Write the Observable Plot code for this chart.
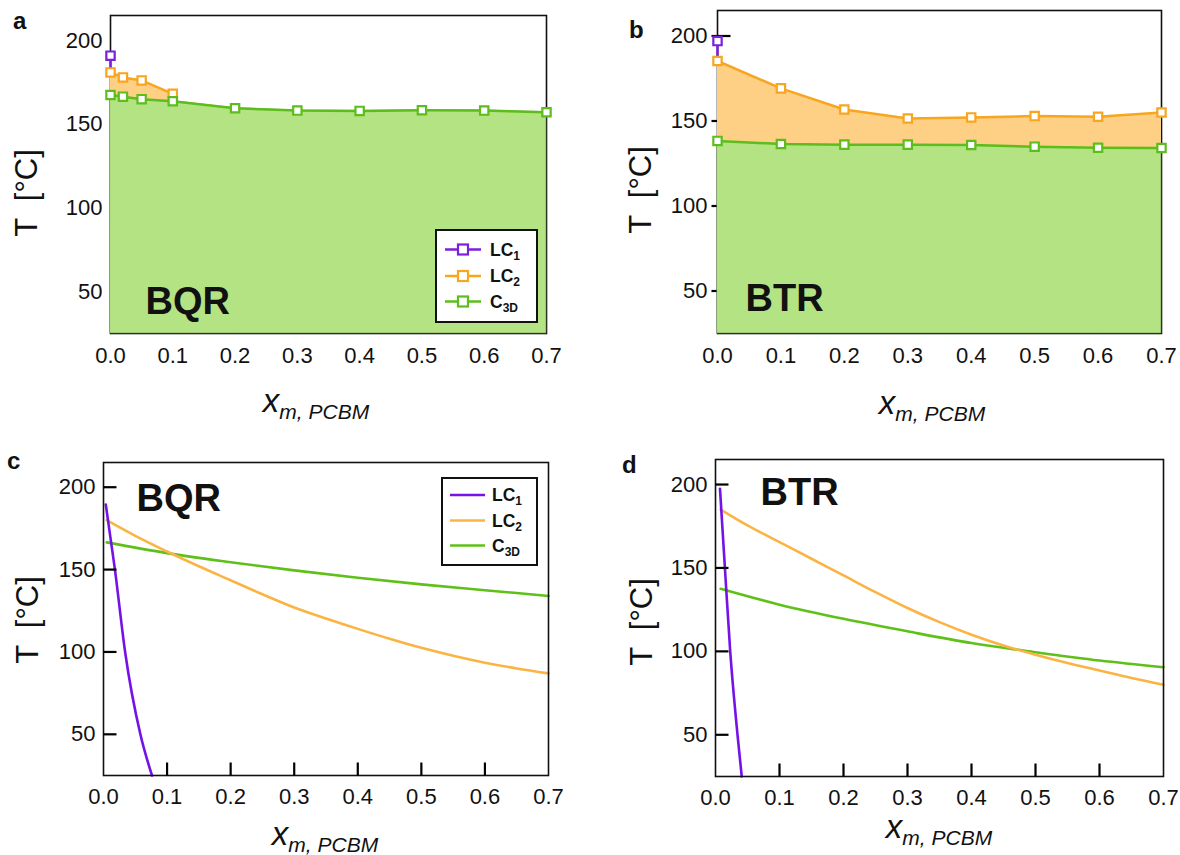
<!DOCTYPE html>
<html><head><meta charset="utf-8">
<script src="https://cdn.jsdelivr.net/npm/d3@7"></script>
<script src="https://cdn.jsdelivr.net/npm/@observablehq/plot@0.6"></script>
<style>
body{margin:0;background:#fff;}
#fig{position:relative;width:1180px;height:855px;font-family:"Liberation Sans",Arial,Helvetica,sans-serif;}
#fig svg{position:absolute;overflow:visible;}
</style></head><body><div id="fig"></div>
<script>
// ---------- data ----------
const xTicks = [0, 0.1, 0.2, 0.3, 0.4, 0.5, 0.6, 0.7];
const xTickLabels = ["0.0", "0.1", "0.2", "0.3", "0.4", "0.5", "0.6", "0.7"];
const yTicks = [50, 100, 150, 200];
const yTickLabels = ["50", "100", "150", "200"];
const yDomain = [25, 215];
const xDomain = [0, 0.7];

const seriesMain = ["LC", "LC", "C"];
const seriesSub = ["1", "2", "3D"];
const panelLetters = ["a", "b", "c", "d"];
const panelNames = ["BQR", "BTR", "BQR", "BTR"];

// (a) BQR measured
const a_LC1_x = [0];
const a_LC1_T = [191];
const a_LC2_x = [0, 0.02, 0.05, 0.1];
const a_LC2_T = [181, 178, 176.2, 168.2];
const a_C3D_x = [0, 0.02, 0.05, 0.1, 0.2, 0.3, 0.4, 0.5, 0.6, 0.7];
const a_C3D_T = [167.5, 166.5, 165, 163.8, 159.6, 158.2, 158, 158.4, 158.2, 157.2];

// (b) BTR measured
const b_LC1_x = [0];
const b_LC1_T = [197];
const b_LC2_x = [0, 0.1, 0.2, 0.3, 0.4, 0.5, 0.6, 0.7];
const b_LC2_T = [185.3, 169.2, 156.8, 151.5, 152.1, 152.9, 152.5, 155];
const b_C3D_x = [0, 0.1, 0.2, 0.3, 0.4, 0.5, 0.6, 0.7];
const b_C3D_T = [138.3, 136.5, 136.1, 136.1, 135.9, 134.9, 134.3, 134.1];

// (c) BQR model
const c_LC1_x = [0.0036, 0.018, 0.034, 0.058, 0.0763];
const c_LC1_T = [189.5, 150, 100, 50, 25];
const c_LC2_x = [0.005, 0.05, 0.1, 0.15, 0.2, 0.25, 0.3, 0.35, 0.4, 0.45, 0.5, 0.55, 0.6, 0.65, 0.7];
const c_LC2_T = [180, 170.5, 161, 152, 143.5, 135, 127, 120.3, 114, 108, 102.5, 97.7, 93.5, 90, 87];
const c_C3D_x = [0.005, 0.1, 0.2, 0.3, 0.4, 0.5, 0.6, 0.7];
const c_C3D_T = [166.5, 160, 154.5, 149.5, 145, 141, 137.5, 134];

// (d) BTR model
const d_LC1_x = [0.007, 0.0147, 0.023, 0.0344, 0.041];
const d_LC1_T = [197.5, 150, 100, 50, 25];
const d_LC2_x = [0.008, 0.05, 0.1, 0.15, 0.2, 0.25, 0.3, 0.35, 0.4, 0.45, 0.5, 0.55, 0.6, 0.65, 0.7];
const d_LC2_T = [185, 175.5, 165.5, 155.5, 145.5, 135.5, 126, 117.5, 110, 103.5, 98, 93, 88.5, 84, 80];
const d_C3D_x = [0.008, 0.1, 0.2, 0.3, 0.4, 0.5, 0.6, 0.7];
const d_C3D_T = [137.5, 128, 119.5, 112, 105, 99.5, 94.5, 90.5];

// ---------- styles ----------
const COL = {
  purple: "#7a1fdc", orange: "#f8a51f", green: "#5cbd1c",
  fillGreen: "#b3e383", fillOrange: "#fdd086",
  purple2: "#7512e8", orange2: "#fbb443", green2: "#5ec018"
};
const FONT = '"Liberation Sans", Arial, Helvetica, sans-serif';
const TICKFS = 22;
const TICKLEN = 13;
const fig = document.getElementById("fig");
const zip = (xs, ts) => xs.map((x, i) => ({x, T: ts[i]}));

// ---------- background layer (titles, letters) ----------
const under = d3.select("#fig").append("svg").attr("width", 1180).attr("height", 855)
  .style("left", "0px").style("top", "0px").style("font-family", FONT);

const letterPos = [[13, 29], [629, 38], [7, 469], [622, 473]];
panelLetters.forEach((l, i) => under.append("text").attr("x", letterPos[i][0]).attr("y", letterPos[i][1])
  .attr("font-size", 24).attr("font-weight", "bold").attr("fill", "#111").text(l));

const yTitlePos = [[26, 193], [640, 190], [27, 620], [641, 622]];
yTitlePos.forEach(([cx, cy]) => under.append("text").attr("transform", `translate(${cx},${cy}) rotate(-90)`)
  .attr("text-anchor", "middle").attr("dy", "0.36em").attr("font-size", 31).attr("fill", "#111")
  .style("white-space", "pre").text("T  [°C]"));

const xTitlePos = [[316, 412], [932, 414], [325, 845], [939, 838]];
xTitlePos.forEach(([cx, by]) => {
  const t = under.append("text").attr("x", cx).attr("y", by).attr("text-anchor", "middle").attr("fill", "#111").attr("font-style", "italic");
  t.append("tspan").attr("font-size", 33).text("x");
  t.append("tspan").attr("font-size", 21).attr("dy", 7).text("m, PCBM");
});

function place(p, left, top) {
  p.style.left = left + "px"; p.style.top = top + "px";
  fig.appendChild(p);
}

function axisLabels(o) {
  return [
    Plot.axisX(xTicks, {tickSize: 0, tickPadding: o.xPad, tickFormat: d => xTickLabels[xTicks.indexOf(d)], label: null, fontSize: TICKFS, fill: "#111"}),
    Plot.axisY(yTicks, {tickSize: 0, tickPadding: o.yPad, tickFormat: d => yTickLabels[yTicks.indexOf(d)], label: null, fontSize: TICKFS, fill: "#111"})
  ];
}

// inward tick marks as links in scale units (length converted from pixels)
function inwardTicks(o, inward) {
  const pw = o.width - o.mL - o.mR, ph = o.height - o.mT - o.mB;
  const kx = (xDomain[1] - xDomain[0]) / pw, ky = (yDomain[1] - yDomain[0]) / ph;
  const m = [];
  if (inward.y) m.push(Plot.link(yTicks, {
    x1: () => xDomain[0] - (o.yOut || 0) * kx, x2: () => xDomain[0] + TICKLEN * kx,
    y1: d => d, y2: d => d, stroke: "#000", strokeWidth: 2.2, strokeLinecap: "butt"
  }));
  if (inward.x) m.push(Plot.link(xTicks.slice(1, -1), {
    x1: d => d, x2: d => d,
    y1: () => yDomain[0], y2: () => yDomain[0] + TICKLEN * ky, stroke: "#000", strokeWidth: 2.2, strokeLinecap: "butt"
  }));
  return m;
}

function measuredPanel(o, LC1, LC2, C3D) {
  const band = LC2.map(d => ({x: d.x, lo: C3D.find(c => c.x === d.x).T, hi: d.T}));
  const marks = [
    Plot.frame({stroke: "#111", strokeWidth: 1.6}),
    ...axisLabels(o),
    ...inwardTicks(o, {y: o.ticks, x: false}),
    Plot.areaY(C3D, {x: "x", y1: yDomain[0], y2: "T", fill: COL.fillGreen, stroke: "#6a8a50", strokeWidth: 0.6}),
    Plot.areaY(band, {x: "x", y1: "lo", y2: "hi", fill: COL.fillOrange}),
    Plot.ruleX([{x: LC1[0].x, y1: LC2[0].T, y2: LC1[0].T}], {x: "x", y1: "y1", y2: "y2", stroke: COL.purple, strokeWidth: 2.5}),
    Plot.line(LC2, {x: "x", y: "T", stroke: COL.orange, strokeWidth: 2.5}),
    Plot.line(C3D, {x: "x", y: "T", stroke: COL.green, strokeWidth: 2.5}),
    Plot.dot(LC2, {x: "x", y: "T", symbol: "square", r: 4.7, fill: "white", stroke: COL.orange, strokeWidth: 2.2}),
    Plot.dot(C3D, {x: "x", y: "T", symbol: "square", r: 4.7, fill: "white", stroke: COL.green, strokeWidth: 2.2}),
    Plot.dot(LC1, {x: "x", y: "T", symbol: "square", r: 4.7, fill: "white", stroke: COL.purple, strokeWidth: 2.2}),
    Plot.text([o.name], {frameAnchor: "bottom-left", text: d => d, textAnchor: "start", lineAnchor: "bottom", dx: o.nameDx, dy: o.nameDy, fontSize: 38, fontWeight: "bold", fill: "#111"})
  ];
  return Plot.plot({
    width: o.width, height: o.height, marginLeft: o.mL, marginRight: o.mR, marginTop: o.mT, marginBottom: o.mB,
    x: {domain: xDomain}, y: {domain: yDomain},
    style: {fontFamily: FONT, fontSize: TICKFS + "px", color: "#111", background: "transparent", overflow: "visible"},
    marks
  });
}

function modelPanel(o, LC1, LC2, C3D) {
  const marks = [
    Plot.line(C3D, {x: "x", y: "T", stroke: COL.green2, strokeWidth: 2.6, curve: "monotone-x"}),
    Plot.line(LC2, {x: "x", y: "T", stroke: COL.orange2, strokeWidth: 2.6, curve: "monotone-x"}),
    Plot.line(LC1, {x: "x", y: "T", stroke: COL.purple2, strokeWidth: 2.6, curve: "monotone-x"}),
    Plot.frame({stroke: "#111", strokeWidth: 1.6}),
    ...axisLabels(o),
    ...inwardTicks(o, {y: true, x: true}),
    Plot.text([o.name], {frameAnchor: "top-left", text: d => d, textAnchor: "start", lineAnchor: "bottom", dx: o.nameDx, dy: o.nameDy, fontSize: 38, fontWeight: "bold", fill: "#111"})
  ];
  return Plot.plot({
    width: o.width, height: o.height, marginLeft: o.mL, marginRight: o.mR, marginTop: o.mT, marginBottom: o.mB,
    x: {domain: xDomain}, y: {domain: yDomain},
    style: {fontFamily: FONT, fontSize: TICKFS + "px", color: "#111", background: "transparent", overflow: "visible"},
    marks
  });
}

const oA = {width: 590, height: 430, mL: 110, mR: 44, mT: 15, mB: 97, xPad: 14, yPad: 8, ticks: false, name: panelNames[0], nameDx: 35, nameDy: -20};
const oB = {width: 590, height: 430, mL: 127, mR: 19, mT: 10, mB: 97, xPad: 14, yPad: 10, yOut: 6, ticks: true, name: panelNames[1], nameDx: 28, nameDy: -23};
const oC = {width: 590, height: 425, mL: 103, mR: 42, mT: 32, mB: 80, xPad: 13, yPad: 8, name: panelNames[2], nameDx: 33, nameDy: 48};
const oD = {width: 590, height: 425, mL: 125, mR: 17, mT: 29, mB: 79, xPad: 13, yPad: 8, name: panelNames[3], nameDx: 45, nameDy: 45};

place(measuredPanel(oA, zip(a_LC1_x, a_LC1_T), zip(a_LC2_x, a_LC2_T), zip(a_C3D_x, a_C3D_T)), 0, 0);
place(measuredPanel(oB, zip(b_LC1_x, b_LC1_T), zip(b_LC2_x, b_LC2_T), zip(b_C3D_x, b_C3D_T)), 590, 0);
place(modelPanel(oC, zip(c_LC1_x, c_LC1_T), zip(c_LC2_x, c_LC2_T), zip(c_C3D_x, c_C3D_T)), 0, 430);
place(modelPanel(oD, zip(d_LC1_x, d_LC1_T), zip(d_LC2_x, d_LC2_T), zip(d_C3D_x, d_C3D_T)), 590, 430);

// ---------- legends (small SVGs on top) ----------
function legend(box, rowY, lx1, lx2, tx, cols, markers) {
  const [bx, by, bw, bh] = box;
  const s = d3.select("#fig").append("svg").attr("width", bw + 4).attr("height", bh + 4)
    .style("left", (bx - 2) + "px").style("top", (by - 2) + "px").style("font-family", FONT);
  const g = s.append("g").attr("transform", `translate(${2 - bx},${2 - by})`);
  g.append("rect").attr("x", bx).attr("y", by).attr("width", bw).attr("height", bh)
    .attr("fill", "white").attr("stroke", "#111").attr("stroke-width", 2);
  seriesMain.forEach((name, i) => {
    const y = rowY[i];
    g.append("line").attr("x1", lx1).attr("x2", lx2).attr("y1", y).attr("y2", y).attr("stroke", cols[i]).attr("stroke-width", 2.5);
    if (markers) g.append("rect").attr("x", (lx1 + lx2) / 2 - 5).attr("y", y - 5).attr("width", 10).attr("height", 10)
      .attr("fill", "white").attr("stroke", cols[i]).attr("stroke-width", 2.2);
    const t = g.append("text").attr("x", tx).attr("y", y + 6.3).attr("font-size", 17.5).attr("font-weight", "bold").attr("fill", "#111");
    t.append("tspan").text(name);
    t.append("tspan").attr("font-size", 12).attr("dy", 4).text(seriesSub[i]);
  });
}
legend([436, 230, 101, 92], [249.5, 276, 301.5], 445, 481, 490, [COL.purple, COL.orange, COL.green], true);
legend([442, 478, 95, 87], [495, 520.5, 545.5], 450, 485, 492, [COL.purple2, COL.orange2, COL.green2], false);
</script></body></html>
